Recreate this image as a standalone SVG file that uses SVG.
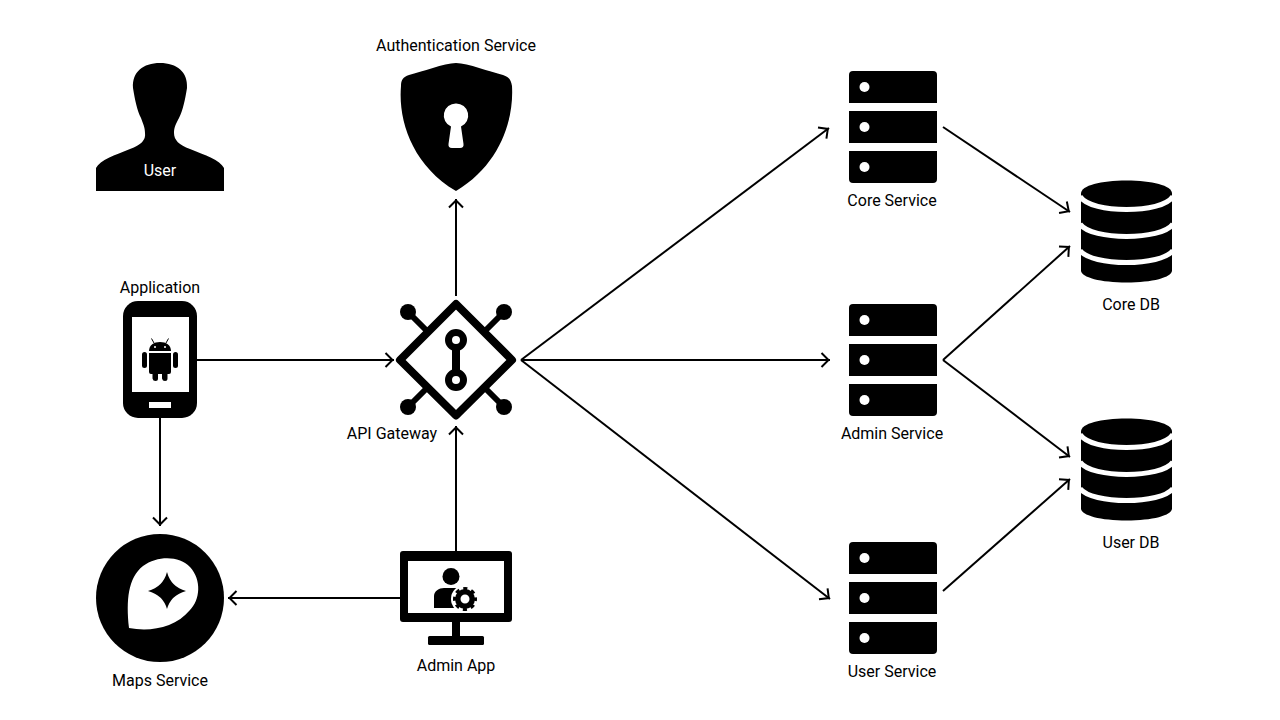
<svg xmlns="http://www.w3.org/2000/svg" width="1280" height="720" viewBox="0 0 1280 720">
<style>
text{font-family:Roboto,"Liberation Sans",sans-serif;font-size:16px;text-anchor:middle;fill:#000}
.c{fill:none;stroke:#000;stroke-width:2;marker-end:url(#a)}
.w{fill:#fff}
.ws{fill:none;stroke:#fff;stroke-width:5}
</style>
<defs>
<marker id="a" markerUnits="userSpaceOnUse" markerWidth="20" markerHeight="20" refX="12" refY="10" orient="auto" overflow="visible"><path d="M3.500 3L10.500 10L3.500 17" fill="none" stroke="#000" stroke-width="2"/></marker>
<g id="srv">
<path d="M0 32V4Q0 0 4 0H84Q88 0 88 4V32Z"/><rect y="40" width="88" height="32"/><path d="M0 80H88V108Q88 112 84 112H4Q0 112 0 108Z"/>
<circle class="w" cx="15.500" cy="16" r="5"/><circle class="w" cx="15.500" cy="56" r="5"/><circle class="w" cx="15.500" cy="96" r="5"/>
</g>
<g id="db">
<path d="M0 13C0 5 20 0 45.500 0S91 5 91 13V90C91 97 71 102 45.500 102S0 97 0 90Z"/>
<path class="ws" d="M-1 16C5 25 25 29 45.500 29S86 25 92 16"/>
<path class="ws" d="M-1 43.500C5 52 25 56 45.500 56S86 52 92 43.500"/>
<path class="ws" d="M-1 70C5 78 25 82 45.500 82S86 78 92 70"/>
</g>
</defs>
<rect width="1280" height="720" fill="#fff"/>
<g id="connectors">
<path class="c" d="M456 296V199"/>
<path class="c" d="M197 360H394"/>
<path class="c" d="M160 418V526"/>
<path class="c" d="M456 551V426"/>
<path class="c" d="M400 598H228"/>
<path class="c" d="M521 360L829 128"/>
<path class="c" d="M521 360H830"/>
<path class="c" d="M521 360L830 599"/>
<path class="c" d="M943 127L1070 212"/>
<path class="c" d="M943 360L1070 246"/>
<path class="c" d="M943 360L1070 457"/>
<path class="c" d="M943 591L1070 479"/>
</g>
<g id="user">
<path d="M96 191V168C100 160 115 155 130 149C141 145 146 140 145 133C145 127 143 124 141 118C137 110 135 100 133 88C132 72 143 63 160 63C177 63 188 72 187 88C185 100 183 110 179 118C176 124 174 127 174 133C174 140 179 145 190 149C205 155 220 160 224 168V191Z"/>
<text x="160" y="176" style="fill:#fff">User</text>
</g>
<g id="auth">
<path d="M456 63C468 63 490 72 503 75C509 77 511 80 512 86C514 120 500 165 456 191C412 165 398 120 401 86C401 80 403 77 409 75C422 72 444 63 456 63Z"/>
<path class="w" d="M456 103.500A12 12 0 0 1 461 126.500L463.500 144Q464 148 460 148H452Q448 148 448.500 144L451 126.500A12 12 0 0 1 456 103.500Z"/>
<text x="456" y="50.600">Authentication Service</text>
</g>
<g id="application">
<rect x="123" y="301" width="74" height="117" rx="15"/>
<rect class="w" x="132" y="317" width="57" height="75"/>
<rect class="w" x="149" y="402" width="22" height="6"/>
<path d="M149 351C149 345 154 342 160 342S171 345 171 351Z"/>
<path d="M154 343L151.500 338.500M166 343L168.500 338.500" stroke="#000" fill="none"/>
<circle class="w" cx="155" cy="347" r="1"/><circle class="w" cx="165" cy="347" r="1"/>
<path d="M149 353H171V372Q171 374 169 374H167.500V378.500Q167.500 381 165 381T162 378.500V374H158V378.500Q158 381 155.500 381T152.500 378.500V374H151Q149 374 149 372Z"/>
<rect x="142" y="352" width="5" height="16" rx="2.500"/><rect x="173" y="352" width="5" height="16" rx="2.500"/>
<text x="160" y="292.600">Application</text>
</g>
<g id="gateway">
<path d="M408 312L426 330M504 312L486 330M408 407L426 389M504 407L486 389" stroke="#000" stroke-width="6" fill="none"/>
<circle cx="408" cy="312" r="8"/><circle cx="504" cy="312" r="8"/><circle cx="408" cy="407" r="8"/><circle cx="504" cy="407" r="8"/>
<path d="M456 304L512 360L456 415.500L400 360Z" fill="#fff" stroke="#000" stroke-width="8" stroke-linejoin="round"/>
<path d="M456 345V375" stroke="#000" stroke-width="8" fill="none"/>
<circle cx="456" cy="340" r="7.500" fill="#fff" stroke="#000" stroke-width="7"/>
<circle cx="456" cy="380" r="7.500" fill="#fff" stroke="#000" stroke-width="7"/>
<text x="392" y="438.600">API Gateway</text>
</g>
<g id="maps">
<circle cx="160" cy="598" r="64"/>
<path class="w" d="M129 628C126 600 128 578 143 566C158 555 180 556 190 567C202 580 200 600 190 610C175 628 150 632 129 628Z"/>
<path d="M167 572Q171 587 186 591Q171 595 167 609Q163 595 148 591Q163 587 167 572Z"/>
<text x="160" y="685.600">Maps Service</text>
</g>
<g id="admin">
<rect x="400" y="551" width="112" height="71" rx="3"/>
<rect class="w" x="408" y="561" width="96" height="52"/>
<rect x="452" y="622" width="8" height="15"/>
<rect x="428" y="636" width="56" height="9" rx="1.500"/>
<circle cx="451" cy="576.500" r="8.500"/>
<path d="M434 608V596C434 591 439 588 444 588H458C462 588 465 590 466 593V608Z"/>
<circle cx="465" cy="599" r="14" class="w"/>
<circle cx="465" cy="599" r="10" fill="none" stroke="#000" stroke-width="4" stroke-dasharray="3.900 3.950" stroke-dashoffset="1.950"/>
<circle cx="465" cy="599" r="7.250" fill="none" stroke="#000" stroke-width="5.500"/>
<text x="456" y="670.600">Admin App</text>
</g>
<g id="core-service"><use href="#srv" x="849" y="71"/><text x="892" y="205.600">Core Service</text></g>
<g id="admin-service"><use href="#srv" x="849" y="304"/><text x="892" y="438.600">Admin Service</text></g>
<g id="user-service"><use href="#srv" x="849" y="542"/><text x="892" y="676.600">User Service</text></g>
<g id="core-db"><use href="#db" x="1081" y="180.500"/><text x="1131" y="310">Core DB</text></g>
<g id="user-db"><use href="#db" x="1081" y="418.500"/><text x="1131" y="548">User DB</text></g>
</svg>
